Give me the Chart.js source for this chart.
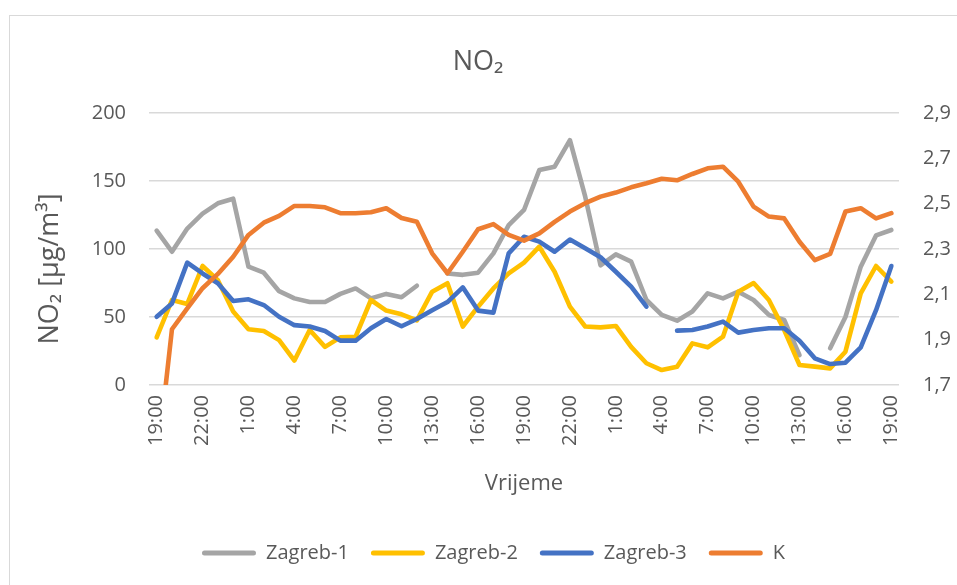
<!DOCTYPE html>
<html lang="hr">
<head>
<meta charset="utf-8">
<title>NO2</title>
<script src="https://cdn.jsdelivr.net/npm/chart.js@4.4.1/dist/chart.umd.min.js"></script>
<style>
    html, body { margin: 0; padding: 0; background: #fff; overflow: hidden; }
    #wrap { position: relative; width: 957px; height: 585px; }
    #frame {
        position: absolute; left: 9px; top: 15px; width: 1200px; height: 900px;
        border: 1.5px solid #d9d9d9; box-sizing: border-box;
    }
    #no2Chart { position: absolute; left: 0; top: 0; }
</style>
</head>
<body>
<div id="wrap">
    <div id="frame"></div>
    <canvas id="no2Chart" width="957" height="585"></canvas>
</div>
<script>
// Satne vrijednosti, od 19:00 do 19:00 dva dana kasnije
const hours = [
    '19:00', '20:00', '21:00', '22:00', '23:00', '0:00', '1:00', '2:00', '3:00', '4:00',
    '5:00', '6:00', '7:00', '8:00', '9:00', '10:00', '11:00', '12:00', '13:00', '14:00',
    '15:00', '16:00', '17:00', '18:00', '19:00', '20:00', '21:00', '22:00', '23:00', '0:00',
    '1:00', '2:00', '3:00', '4:00', '5:00', '6:00', '7:00', '8:00', '9:00', '10:00',
    '11:00', '12:00', '13:00', '14:00', '15:00', '16:00', '17:00', '18:00', '19:00'
];

// NO2 [µg/m3] po postajama (null = nema mjerenja)
const zagreb1 = [
    113.5, 98, 115, 126, 133.6, 137, 87, 82.6, 69, 63.7,
    61, 61, 67, 71, 63.7, 67, 64.5, 73, null, 82,
    81, 82.6, 96.8, 117.6, 128.7, 158, 160.5, 180, 138.5, 88,
    96, 90.7, 62.5, 51.5, 47.3, 54, 67.4, 63.7, 68.6, 62.5,
    51.5, 47.8, 22, null, 27, 50, 87, 110, 114
];
const zagreb2 = [
    35, 62.5, 59.6, 87.5, 77, 54, 41, 39.7, 33, 18,
    40.4, 28, 35, 35.5, 62.5, 54.7, 52, 47.5, 68.6, 74.8,
    43, 57.6, 71, 82, 90, 101.7, 83.3, 57.6, 43, 42.4,
    43.4, 28, 16, 11, 13.5, 30.6, 27.7, 35.5, 68.6, 75,
    62.5, 40.4, 14.7, 13.5, 12.2, 24.5, 67.4, 87.5, 76
];
const zagreb3 = [
    50.2, 60, 90, 82, 74.8, 61.8, 63, 58.8, 50.2, 44,
    43, 39.7, 32.6, 32.6, 41.7, 48.5, 43.2, 48.5, 55, 61,
    71.8, 54.7, 53.2, 96.8, 109, 105.4, 98, 107, 100.5, 93.9,
    83.3, 72.3, 57.6, null, 40, 40.4, 43, 46.6, 38.5, 40.4,
    41.7, 41.7, 32.6, 19.6, 15.4, 16.4, 27.7, 55, 87.5
];
// K, desna os
const kValues = [
    1.34, 1.946, 2.038, 2.127, 2.19, 2.266, 2.362, 2.416, 2.446, 2.49,
    2.49, 2.484, 2.458, 2.458, 2.462, 2.48, 2.437, 2.42, 2.281, 2.193,
    2.288, 2.387, 2.41, 2.362, 2.337, 2.369, 2.42, 2.465, 2.502, 2.531,
    2.549, 2.572, 2.59, 2.61, 2.603, 2.631, 2.656, 2.663, 2.597, 2.487,
    2.443, 2.435, 2.332, 2.251, 2.278, 2.465, 2.48, 2.435, 2.458
];

const leftTicks = [0, 50, 100, 150, 200];
const rightTicks = [1.7, 1.9, 2.1, 2.3, 2.5, 2.7, 2.9];

const FONT = "'Open Sans', 'Noto Sans', sans-serif";
const TEXT = '#595959';
const GRID = '#d9d9d9';

// Naslov grafa i naslov lijeve osi
const overlayTitles = {
    id: 'overlayTitles',
    afterDraw(chart) {
        const ctx = chart.ctx;
        ctx.save();
        ctx.fillStyle = TEXT;
        ctx.textAlign = 'center';
        ctx.textBaseline = 'middle';
        ctx.font = `27px ${FONT}`;
        ctx.fillText('NO₂', 478, 62);
        ctx.translate(50, 269);
        ctx.rotate(-Math.PI / 2);
        ctx.font = `27px ${FONT}`;
        ctx.fillText('NO₂ [µg/m³]', 0, 0);
        ctx.restore();
    }
};

function lineSet(label, data, color, axis, order) {
    return {
        label: label,
        data: data,
        yAxisID: axis,
        order: order,
        borderColor: color,
        backgroundColor: color,
        borderWidth: 4.6,
        borderCapStyle: 'round',
        borderJoinStyle: 'round',
        pointRadius: 0,
        pointHoverRadius: 0,
        tension: 0,
        spanGaps: false,
        fill: false
    };
}

const ctx = document.getElementById('no2Chart').getContext('2d');
new Chart(ctx, {
    type: 'line',
    data: {
        labels: hours,
        datasets: [
            lineSet('Zagreb-1', zagreb1, '#A5A5A5', 'y', 3),
            lineSet('Zagreb-2', zagreb2, '#FFC000', 'y', 2),
            lineSet('Zagreb-3', zagreb3, '#4472C4', 'y', 1),
            lineSet('K', kValues, '#ED7D31', 'y1', 0)
        ]
    },
    options: {
        responsive: false,
        animation: false,
        devicePixelRatio: 1,
        layout: { padding: { top: 113, left: 30, right: 0, bottom: 12 } },
        plugins: {
            title: { display: false },
            tooltip: { enabled: false },
            legend: {
                position: 'bottom',
                labels: {
                    color: TEXT,
                    font: { family: FONT, size: 20 },
                    boxWidth: 54,
                    boxHeight: 5,
                    useBorderRadius: true,
                    borderRadius: 2.5,
                    padding: 22,
                    sort: (a, b) => a.datasetIndex - b.datasetIndex,
                    generateLabels: (chart) => {
                        const items = Chart.defaults.plugins.legend.labels.generateLabels(chart);
                        items.forEach(it => { it.lineWidth = 0; });
                        return items;
                    }
                }
            }
        },
        scales: {
            x: {
                offset: true,
                grid: { display: false, drawTicks: false },
                border: { display: false },
                ticks: {
                    color: TEXT,
                    font: { family: FONT, size: 20 },
                    autoSkip: false,
                    minRotation: 90,
                    maxRotation: 90,
                    padding: 10,
                    callback: (v, i) => (i % 3 === 0 ? hours[i] : '')
                },
                title: {
                    display: true,
                    text: 'Vrijeme',
                    color: TEXT,
                    font: { family: FONT, size: 22 },
                    padding: { top: 0, bottom: 24 }
                },
                afterFit: (axis) => { axis.height = 136; }
            },
            y: {
                position: 'left',
                min: 0,
                max: 200,
                grid: { color: GRID, lineWidth: 1.5, drawTicks: false },
                border: { display: false },
                ticks: {
                    color: TEXT,
                    font: { family: FONT, size: 20 },
                    padding: 23
                },
                afterBuildTicks: (axis) => { axis.ticks = leftTicks.map(v => ({ value: v })); },
                afterFit: (axis) => { axis.width = 119; }
            },
            y1: {
                position: 'right',
                min: 1.7,
                max: 2.9,
                grid: { drawOnChartArea: false, drawTicks: false },
                border: { display: false },
                ticks: {
                    color: TEXT,
                    font: { family: FONT, size: 20 },
                    padding: 24,
                    callback: (v) => v.toFixed(1).replace('.', ',')
                },
                afterBuildTicks: (axis) => { axis.ticks = rightTicks.map(v => ({ value: v })); },
                afterFit: (axis) => { axis.width = 58; }
            }
        }
    },
    plugins: [overlayTitles]
});
</script>
</body>
</html>
